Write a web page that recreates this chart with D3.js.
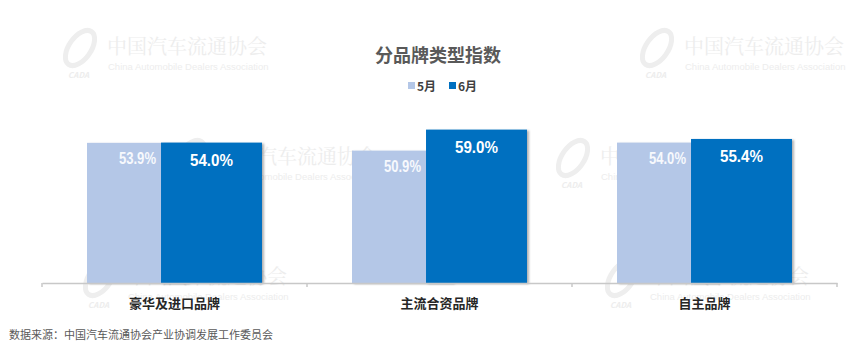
<!DOCTYPE html>
<html>
<head>
<meta charset="utf-8">
<script src="https://cdn.jsdelivr.net/npm/d3@7/dist/d3.min.js"></script>
<style>
  body { margin: 0; background: #fff; }
  svg { display: block; font-family: "Noto Sans CJK SC", "Noto Sans", sans-serif; }
</style>
</head>
<body>
<div id="chart"></div>
<script>
// chart data
var categories = ["豪华及进口品牌", "主流合资品牌", "自主品牌"];
var seriesNames = ["5月", "6月"];
var may = [53.9, 50.9, 54.0];
var june = [54.0, 59.0, 55.4];
var colors = ["#B4C7E7", "#0070C0"];

var width = 865;
var height = 354;

var svg = d3.select("#chart")
    .append("svg")
    .attr("width", width)
    .attr("height", height);

// soft shadow under bars
var defs = svg.append("defs");
var f = defs.append("filter").attr("id", "shadow")
    .attr("x", "-10%").attr("y", "-10%").attr("width", "130%").attr("height", "130%");
f.append("feDropShadow")
    .attr("dx", 2).attr("dy", 1).attr("stdDeviation", 1.2)
    .attr("flood-color", "#000").attr("flood-opacity", 0.3);

// faint watermarks (background)
var marks = [[60, 28], [637, 28], [170, 138], [553, 138], [80, 258], [602, 258]];
var wm = svg.append("g").attr("fill", "none");
marks.forEach(function(m) {
    var g = wm.append("g").attr("transform", "translate(" + m[0] + "," + m[1] + ")");
    g.append("ellipse").attr("cx", 20).attr("cy", 20).attr("rx", 11).attr("ry", 20)
        .attr("transform", "rotate(35,20,20)")
        .attr("stroke", "#eeeeee").attr("stroke-width", 5);
    g.append("text").attr("x", 8).attr("y", 50).attr("font-size", 8).attr("font-style", "italic")
        .attr("font-weight", "bold").attr("fill", "#ededed").text("CADA");
    g.append("text").attr("x", 47).attr("y", 26).attr("font-size", 20)
        .attr("font-family", "'Noto Serif CJK SC', 'Noto Sans CJK SC', serif")
        .attr("fill", "#ededed").text("中国汽车流通协会");
    g.append("text").attr("x", 48).attr("y", 42).attr("font-size", 9.5)
        .attr("font-family", "'Liberation Sans', Arial, sans-serif")
        .attr("fill", "#ededed").text("China Automobile Dealers Association");
});

// scales
var x = d3.scaleBand()
    .domain(categories)
    .range([42, 837])
    .padding(0);

var y = d3.scaleLinear()
    .domain([0, 70])
    .range([283, 101]);

var barW = x.bandwidth() * 0.381;
var shift = barW * 0.733;

function barX(cat, s) {
    var c = x(cat) + x.bandwidth() / 2;
    return c - (barW + shift) / 2 + s * shift;
}

var series = [may, june];

series.forEach(function(vals, s) {
    svg.append("g")
        .selectAll("rect")
        .data(categories)
        .enter()
        .append("rect")
        .attr("x", function(d) { return barX(d, s); })
        .attr("y", function(d, i) { return y(vals[i]); })
        .attr("width", barW)
        .attr("height", function(d, i) { return y(0) - y(vals[i]); })
        .attr("fill", colors[s])
        .attr("filter", "url(#shadow)");
});

// value labels
series.forEach(function(vals, s) {
    svg.append("g")
        .selectAll("text")
        .data(categories)
        .enter()
        .append("text")
        .attr("x", function(d) { return barX(d, s) + barW / 2; })
        .attr("y", function(d, i) { return y(vals[i]) + (s === 0 ? 21 : 23); })
        .attr("text-anchor", "middle")
        .attr("font-family", "'Liberation Sans Narrow', 'Arial Narrow', sans-serif")
        .attr("font-weight", "bold")
        .attr("font-size", s === 0 ? 16 : 17)
        .attr("textLength", s === 0 ? 37 : 43)
        .attr("lengthAdjust", "spacingAndGlyphs")
        .attr("fill", s === 0 ? "#f7f9fd" : "#ffffff")
        .text(function(d, i) { return vals[i].toFixed(1) + "%"; });
});

// x axis
var xAxis = svg.append("g")
    .attr("transform", "translate(0," + y(0) + ")")
    .call(d3.axisBottom(x).tickSize(0).tickPadding(16));
xAxis.select(".domain").attr("stroke", "#c8c8c8").attr("stroke-width", 1.5);
xAxis.selectAll("text")
    .attr("font-size", 13)
    .attr("font-weight", "bold")
    .attr("fill", "#262626")
    .attr("font-family", "'Noto Sans CJK SC', sans-serif");

// boundary ticks between categories
var bounds = categories.map(function(d) { return x(d); }).concat([x.range()[1]]);
xAxis.selectAll(".bound")
    .data(bounds)
    .enter()
    .append("line")
    .attr("class", "bound")
    .attr("x1", function(d) { return d; })
    .attr("x2", function(d) { return d; })
    .attr("y1", 0)
    .attr("y2", 4)
    .attr("stroke", "#c8c8c8")
    .attr("stroke-width", 1.5);

// title
svg.append("text")
    .attr("x", 438)
    .attr("y", 62)
    .attr("text-anchor", "middle")
    .attr("font-size", 18)
    .attr("font-weight", "bold")
    .attr("fill", "#595959")
    .text("分品牌类型指数");

// legend
var legendX = [408, 449];
seriesNames.forEach(function(n, i) {
    svg.append("rect")
        .attr("x", legendX[i])
        .attr("y", 82)
        .attr("width", 7)
        .attr("height", 7)
        .attr("fill", colors[i]);
    svg.append("text")
        .attr("x", legendX[i] + 9)
        .attr("y", 91)
        .attr("font-size", 12)
        .attr("font-weight", "bold")
        .attr("fill", "#404040")
        .text(n);
});

// source note
svg.append("text")
    .attr("x", 9)
    .attr("y", 339)
    .attr("font-size", 11)
    .attr("fill", "#595959")
    .text("数据来源：中国汽车流通协会产业协调发展工作委员会");
</script>
</body>
</html>
